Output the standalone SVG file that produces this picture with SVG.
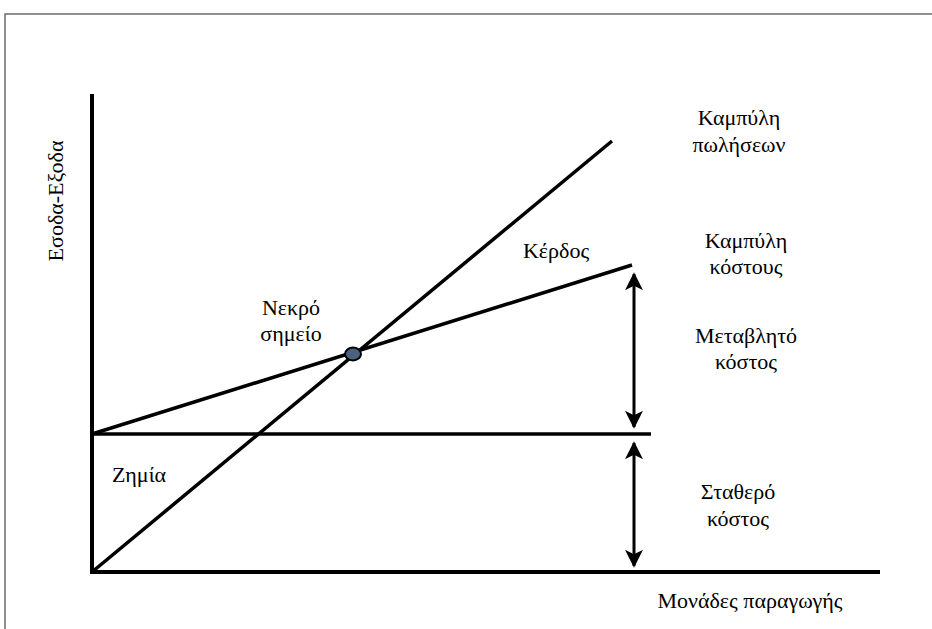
<svg xmlns="http://www.w3.org/2000/svg" width="932" height="629" viewBox="0 0 932 629">
<defs>
<style>
text{font-family:"Liberation Serif","Times New Roman",serif;font-size:22px;fill:#000;text-anchor:middle}
.ax{stroke:#000;stroke-width:4;fill:none;stroke-linecap:square}
.ln{stroke:#000;stroke-width:3.5;fill:none}
.arr{stroke:#000;stroke-width:3;fill:none}
.frame{stroke:#6a6a6a;stroke-width:1.5;fill:none}
</style>
<marker id="ah" viewBox="0 0 10 10" refX="9" refY="5" markerWidth="6" markerHeight="6" orient="auto-start-reverse" markerUnits="strokeWidth">
<path d="M0,0 L10,5 L0,10 L2.5,5 z" fill="#000"/>
</marker>
</defs>
<rect width="932" height="629" fill="#fff"/>
<path class="frame" d="M5,629 V14 H932"/>
<g id="axes">
<line class="ax" x1="92" y1="96" x2="92" y2="572"/>
<line class="ax" x1="92" y1="572" x2="878" y2="572"/>
</g>
<g id="connectors">
<line class="ln" x1="92" y1="434" x2="651" y2="434"/>
<line class="ln" x1="92" y1="572" x2="612" y2="141"/>
<line class="ln" x1="92" y1="434" x2="632" y2="265"/>
<line class="arr" x1="634" y1="274" x2="634" y2="427" marker-start="url(#ah)" marker-end="url(#ah)"/>
<line class="arr" x1="634" y1="443" x2="634" y2="566" marker-start="url(#ah)" marker-end="url(#ah)"/>
</g>
<g id="breakeven">
<ellipse cx="353" cy="354" rx="8" ry="6.5" fill="#4d6080" stroke="#000" stroke-width="2"/>
<text x="291" y="315">Νεκρό</text>
<text x="291" y="341">σημείο</text>
</g>
<g id="ylabel"><text transform="translate(63,201) rotate(-90)">Εσοδα-Εξοδα</text></g>
<g id="xlabel"><text x="750" y="608">Μονάδες παραγωγής</text></g>
<g id="sales"><text x="739" y="125">Καμπύλη</text><text x="739" y="152">πωλήσεων</text></g>
<g id="cost"><text x="746" y="248">Καμπύλη</text><text x="746" y="274">κόστους</text></g>
<g id="variable"><text x="746" y="343">Μεταβλητό</text><text x="746" y="369">κόστος</text></g>
<g id="fixed"><text x="738" y="499">Σταθερό</text><text x="738" y="526">κόστος</text></g>
<g id="profit"><text x="556" y="258">Κέρδος</text></g>
<g id="loss"><text x="139" y="482">Ζημία</text></g>
</svg>
